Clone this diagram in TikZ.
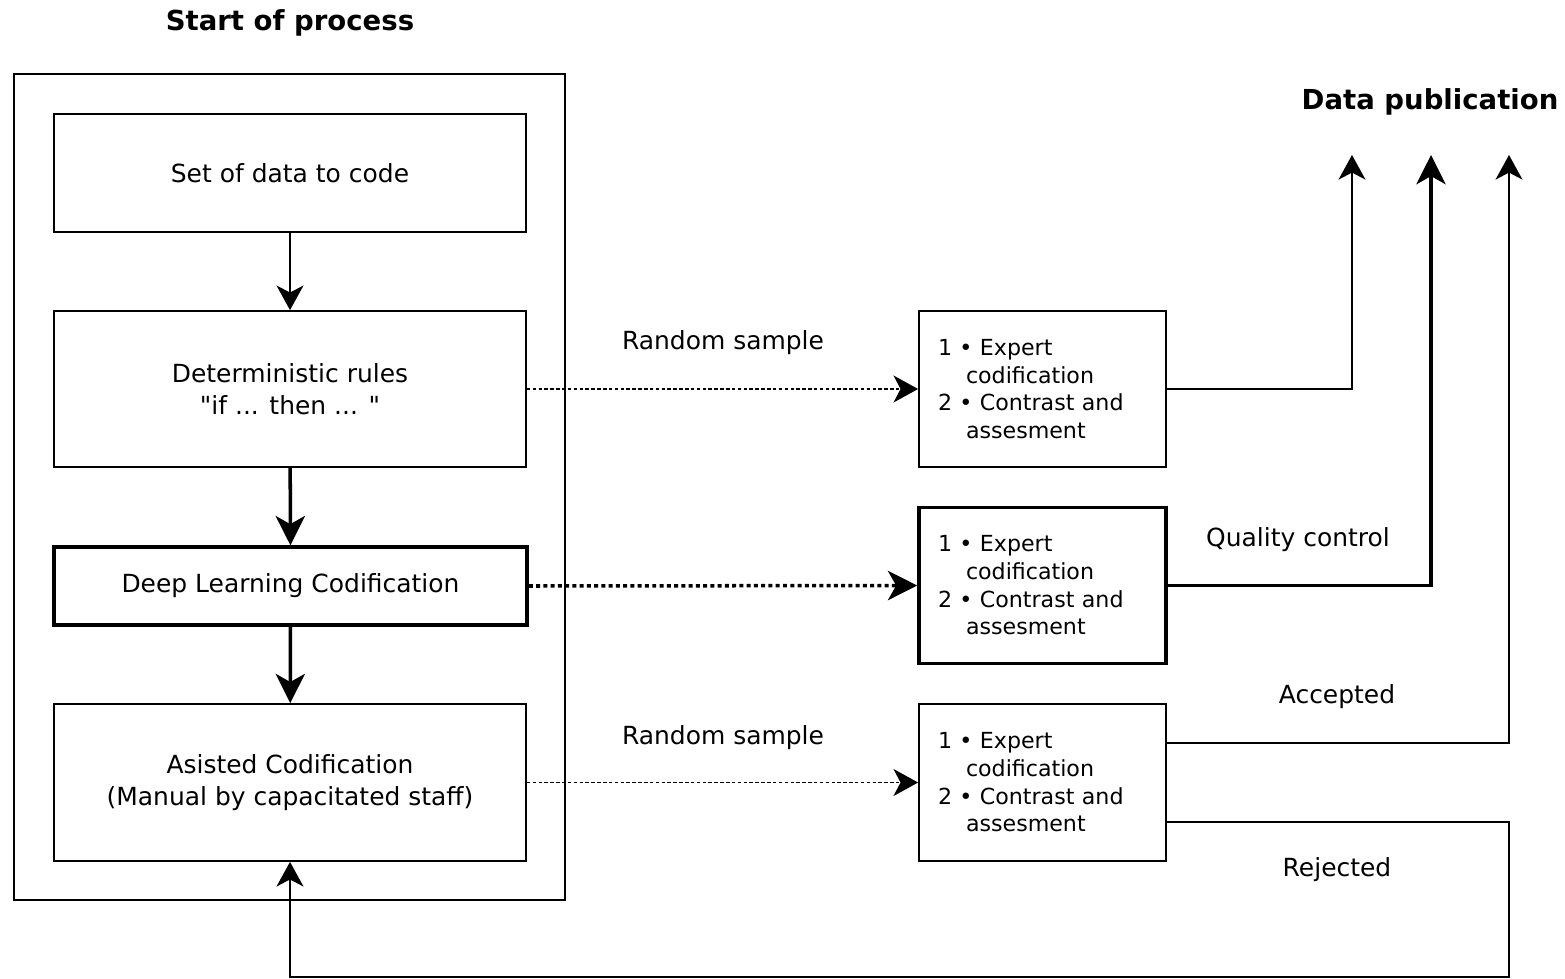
\documentclass[tikz,border=0pt]{standalone}
\usepackage{fontspec}
\setmainfont{DejaVu Sans}
\newfontfamily\dvplain{DejaVu Sans}
\usetikzlibrary{arrows.meta,calc}
\begin{document}
\begin{tikzpicture}[x=0.03cm,y=-0.03cm,
  thinl/.style={line width=1.5pt},
  thickl/.style={line width=3pt},
  box/.style={draw,thinl,inner sep=0pt,align=center,font=\dvplain\fontsize{21.3}{27.3}\selectfont},
  rbox/.style={draw,thinl,minimum width=7.41cm,minimum height=4.69cm,inner xsep=0.57cm,inner ysep=0pt,text width=6.27cm,align=left,font=\fontsize{18.9}{23.6}\selectfont},
  lbl/.style={font=\fontsize{21.3}{27.3}\selectfont,inner sep=0pt},
  ttl/.style={font=\fontsize{23.5}{28}\selectfont\bfseries,inner sep=0pt},
  tipthin/.style={-{Stealth[length=21pt,width=23pt,inset=6pt]}},
  tipthick/.style={-{Stealth[length=25pt,width=25pt,inset=7pt]}},
  dotthin/.style={thinl,dash pattern=on 3pt off 2pt},
  dotthick/.style={thickl,dash pattern=on 3.4pt off 2.8pt}
]
\useasboundingbox (0,0) rectangle (1565,979);
% titles
\node[ttl] (start) at (290,23) {Start of process};
\node[ttl] (pub) at (1430,102) {Data publication};
% outer container
\node[draw,thinl,minimum width=16.53cm,minimum height=24.78cm,inner sep=0pt] (outer) at (289.5,487) {};
% left boxes
\node[box,minimum width=14.16cm,minimum height=3.54cm] (b1) at (290,173) {Set of data to code};
\node[box,minimum width=14.16cm,minimum height=4.68cm] (b2) at (290,389) {Deterministic rules\\"if ... then ... "};
\node[box,thickl,minimum width=14.19cm,minimum height=2.34cm] (b3) at (290.5,586) {Deep Learning Codification};
\node[box,minimum width=14.16cm,minimum height=4.71cm] (b4) at (290,782.5) {Asisted Codification\\(Manual by capacitated staff)};
% right boxes
\newcommand{\qctext}{1 • Expert\\\hspace*{0.84cm}codification\\2 • Contrast and\\\hspace*{0.84cm}assesment}
\node[rbox] (r1) at (1042.5,389) {\qctext};
\node[rbox,thickl] (r2) at (1042.5,585.5) {\qctext};
\node[rbox] (r3) at (1042.5,782.5) {\qctext};
% labels
\node[lbl] (rs1) at (723,343) {Random sample};
\node[lbl] (rs2) at (723,738) {Random sample};
\node[lbl] (qc) at (1298,540) {Quality control};
\node[lbl] (acc) at (1337,697) {Accepted};
\node[lbl] (rej) at (1337,870) {Rejected};
% coordinates for free ends
\coordinate (p1) at (1352,155);
\coordinate (p2) at (1431,155);
\coordinate (p3) at (1509,155);
\coordinate (k1) at (1509,822);
\coordinate (k2) at (1509,977);
% vertical flow
\draw[thinl,tipthin] (b1) -- (b2);
\draw[thickl,tipthick] (b2) -- (b3);
\draw[thickl,tipthick] (b3) -- (b4);
% sampling
\draw[dotthin,tipthin] (b2.east) -- (r1.west);
\draw[dotthick,tipthick] (b3.east) -- (r2.west);
\draw[dotthin,tipthin] (b4.east) -- (r3.west);
% publication
\draw[thinl,tipthin] (r1.east) -| (p1);
\draw[thickl,tipthick] (r2.east) -| (p2);
\draw[thinl,tipthin] ($(r3.east)+(0,-39.5)$) -| (p3);
% rejected loop
\draw[thinl,tipthin] ($(r3.east)+(0,39.5)$) -- (k1) -- (k2) -| (b4.south);
\end{tikzpicture}
\end{document}
